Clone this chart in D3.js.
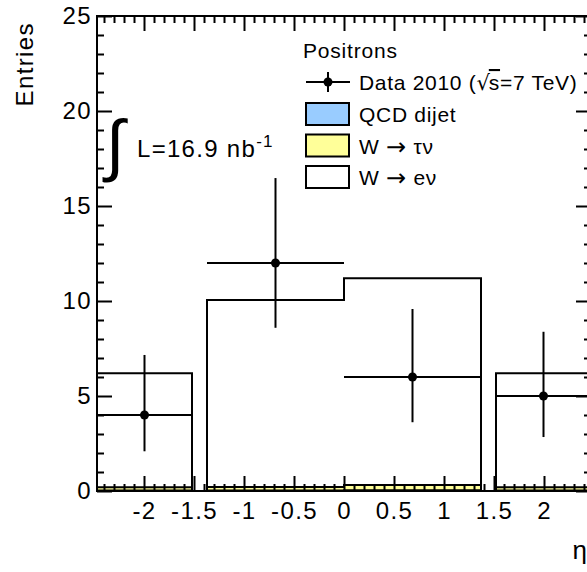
<!DOCTYPE html>
<html>
<head>
<meta charset="utf-8">
<script src="https://cdn.jsdelivr.net/npm/d3@7"></script>
<style>
  body { margin: 0; background: #fff; }
  svg { display: block; }
  text { font-family: "Liberation Sans", Arial, sans-serif; fill: #000; }
</style>
</head>
<body>
<div id="chart"></div>
<script>
// eta bins (crack region 1.37-1.52 is empty)
var binEdges = [-2.47, -1.52, -1.37, 0, 1.37, 1.52, 2.47];
var qcdDijet = [0.03, 0, 0.03, 0.04, 0, 0.03];
var wTauNu   = [0.17, 0, 0.18, 0.28, 0, 0.17];
var wENu     = [6.0, 0, 9.84, 10.88, 0, 6.0];

// data points
var dataLo     = [-2.47, -1.37, 0, 1.52];
var dataHi     = [-1.52, 0, 1.37, 2.47];
var dataCounts = [4, 12, 6, 5];
var errDown    = [1.91, 3.41, 2.38, 2.16];
var errUp      = [3.16, 4.47, 3.58, 3.38];

var yTicks = [0, 5, 10, 15, 20, 25];
var xTicks = [-2, -1.5, -1, -0.5, 0, 0.5, 1, 1.5, 2];

var legendItems = [
    { pre: "QCD dijet", post: "", fill: "#99ccff" },
    { pre: "W ", post: " \u03c4\u03bd", fill: "#ffff99" },
    { pre: "W ", post: " e\u03bd", fill: "#ffffff" }
];

var width = 587,
    height = 572;

var x = d3.scaleLinear([-2.47, 2.47], [97, 591]);
var y = d3.scaleLinear([0, 25], [491, 16]);

var svg = d3.select("#chart").append("svg")
    .attr("width", width)
    .attr("height", height);

// stacked totals
var tauTot = qcdDijet.map((v, i) => v + wTauNu[i]);
var allTot = tauTot.map((v, i) => v + wENu[i]);

function stepPoints(tops) {
    var pts = [[binEdges[0], 0]];
    tops.forEach((t, i) => {
        pts.push([binEdges[i], t]);
        pts.push([binEdges[i + 1], t]);
    });
    pts.push([binEdges[binEdges.length - 1], 0]);
    return pts;
}

var line = d3.line().x(d => x(d[0])).y(d => y(d[1]));

var stack = [
    { tops: allTot, fill: "#ffffff" },
    { tops: tauTot, fill: "#ffff99" },
    { tops: qcdDijet, fill: "#99ccff" }
];

svg.append("g")
    .selectAll("path")
    .data(stack)
    .join("path")
    .attr("d", d => line(stepPoints(d.tops)))
    .attr("fill", d => d.fill)
    .attr("stroke", "#000")
    .attr("stroke-width", 2);

// axes: ticks point inward, no domain path
var minorX = d3.range(-24, 25).map(d => d / 10).filter(d => Math.abs(d * 2 - Math.round(d * 2)) > 1e-6);
var minorY = d3.range(0, 26).filter(d => d % 5 !== 0);

function styleAxis(g) {
    g.select(".domain").remove();
    g.selectAll(".tick line").attr("stroke-width", 2);
    g.selectAll("text")
        .attr("font-size", 24)
        .attr("letter-spacing", 1.4)
        .attr("font-family", "Liberation Sans, Arial, sans-serif");
}

svg.append("g")
    .attr("transform", `translate(0,${y(0)})`)
    .call(d3.axisBottom(x).tickValues(xTicks).tickSize(-15).tickPadding(11).tickFormat(d => String(d)))
    .call(styleAxis);
svg.append("g")
    .attr("transform", `translate(0,${y(0)})`)
    .call(d3.axisBottom(x).tickValues(minorX).tickSize(-7).tickFormat(""))
    .call(styleAxis);

svg.append("g")
    .attr("transform", `translate(0,${y(25)})`)
    .call(d3.axisTop(x).tickValues(xTicks).tickSize(-15).tickFormat(""))
    .call(styleAxis);
svg.append("g")
    .attr("transform", `translate(0,${y(25)})`)
    .call(d3.axisTop(x).tickValues(minorX).tickSize(-7).tickFormat(""))
    .call(styleAxis);

svg.append("g")
    .attr("transform", `translate(${x(-2.47)},0)`)
    .call(d3.axisLeft(y).tickValues(yTicks).tickSize(-15).tickPadding(5).tickFormat(d => String(d)))
    .call(styleAxis);
svg.append("g")
    .attr("transform", `translate(${x(-2.47)},0)`)
    .call(d3.axisLeft(y).tickValues(minorY).tickSize(-7).tickFormat(""))
    .call(styleAxis);

svg.append("g")
    .attr("transform", `translate(${x(2.47)},0)`)
    .call(d3.axisRight(y).tickValues(yTicks).tickSize(-15).tickFormat(""))
    .call(styleAxis);
svg.append("g")
    .attr("transform", `translate(${x(2.47)},0)`)
    .call(d3.axisRight(y).tickValues(minorY).tickSize(-7).tickFormat(""))
    .call(styleAxis);

// frame
svg.append("rect")
    .attr("x", x(-2.47))
    .attr("y", y(25))
    .attr("width", x(2.47) - x(-2.47))
    .attr("height", y(0) - y(25))
    .attr("fill", "none")
    .attr("stroke", "#000")
    .attr("stroke-width", 2);

// data points
var pts = dataCounts.map((c, i) => ({
    lo: dataLo[i], hi: dataHi[i], mid: (dataLo[i] + dataHi[i]) / 2,
    c: c, dn: errDown[i], up: errUp[i]
}));

var dg = svg.append("g").attr("stroke", "#000").attr("stroke-width", 2);
dg.selectAll("line.h")
    .data(pts)
    .join("line")
    .attr("class", "h")
    .attr("x1", d => x(d.lo))
    .attr("x2", d => x(d.hi))
    .attr("y1", d => y(d.c))
    .attr("y2", d => y(d.c));
dg.selectAll("line.v")
    .data(pts)
    .join("line")
    .attr("class", "v")
    .attr("x1", d => x(d.mid))
    .attr("x2", d => x(d.mid))
    .attr("y1", d => y(d.c - d.dn))
    .attr("y2", d => y(d.c + d.up));
svg.append("g")
    .selectAll("circle")
    .data(pts)
    .join("circle")
    .attr("cx", d => x(d.mid))
    .attr("cy", d => y(d.c))
    .attr("r", 4.5)
    .attr("fill", "#000");

// axis titles
svg.append("text")
    .attr("transform", "translate(33,22) rotate(-90)")
    .attr("text-anchor", "end")
    .attr("font-size", 24)
    .attr("letter-spacing", 1.4)
    .text("Entries");

svg.append("text")
    .attr("x", 587)
    .attr("y", 559)
    .attr("text-anchor", "end")
    .attr("font-size", 26)
    .text("\u03b7");

// luminosity label
svg.append("text")
    .attr("x", 106)
    .attr("y", 168)
    .attr("font-family", "DejaVu Sans, sans-serif")
    .attr("font-size", 68)
    .text("\u222b");

var lum = svg.append("text")
    .attr("x", 137)
    .attr("y", 157)
    .attr("font-size", 24)
    .attr("letter-spacing", 1.3);
lum.append("tspan").text("L=16.9 nb");
lum.append("tspan").attr("font-size", 17).attr("dy", -10).text("-1");

// legend
var lg = svg.append("g");
lg.append("text")
    .attr("x", 303)
    .attr("y", 58)
    .attr("font-size", 21)
    .attr("letter-spacing", 0.8)
    .text("Positrons");

lg.append("line")
    .attr("x1", 306).attr("x2", 350)
    .attr("y1", 82).attr("y2", 82)
    .attr("stroke", "#000").attr("stroke-width", 2);
lg.append("line")
    .attr("x1", 328).attr("x2", 328)
    .attr("y1", 72).attr("y2", 92)
    .attr("stroke", "#000").attr("stroke-width", 2);
lg.append("circle")
    .attr("cx", 328).attr("cy", 82).attr("r", 4.5).attr("fill", "#000");

var dataLabel = lg.append("text")
    .attr("x", 359)
    .attr("y", 90)
    .attr("font-size", 21)
    .attr("letter-spacing", 0.7);
dataLabel.append("tspan").text("Data 2010 (");
dataLabel.append("tspan").attr("font-family", "DejaVu Sans, sans-serif").attr("letter-spacing", -1).text("\u221a");
dataLabel.append("tspan").style("text-decoration", "overline").text("s");
dataLabel.append("tspan").text("=7 TeV)");

var items = lg.selectAll("g.item")
    .data(legendItems)
    .join("g")
    .attr("class", "item")
    .attr("transform", (d, i) => `translate(0,${114 + i * 31.5})`);
items.append("rect")
    .attr("x", 306)
    .attr("y", -11)
    .attr("width", 43)
    .attr("height", 22)
    .attr("fill", d => d.fill)
    .attr("stroke", "#000")
    .attr("stroke-width", 2);
var itemText = items.append("text")
    .attr("x", 359)
    .attr("y", 8)
    .attr("font-size", 21)
    .attr("letter-spacing", 0.7);
itemText.append("tspan").text(d => d.pre);
itemText.filter(d => d.post !== "").append("tspan")
    .attr("font-family", "DejaVu Sans, sans-serif")
    .attr("font-size", 24)
    .attr("dy", 1)
    .text("\u2192");
itemText.filter(d => d.post !== "").append("tspan")
    .attr("dy", -1)
    .text(d => d.post);
</script>
</body>
</html>
